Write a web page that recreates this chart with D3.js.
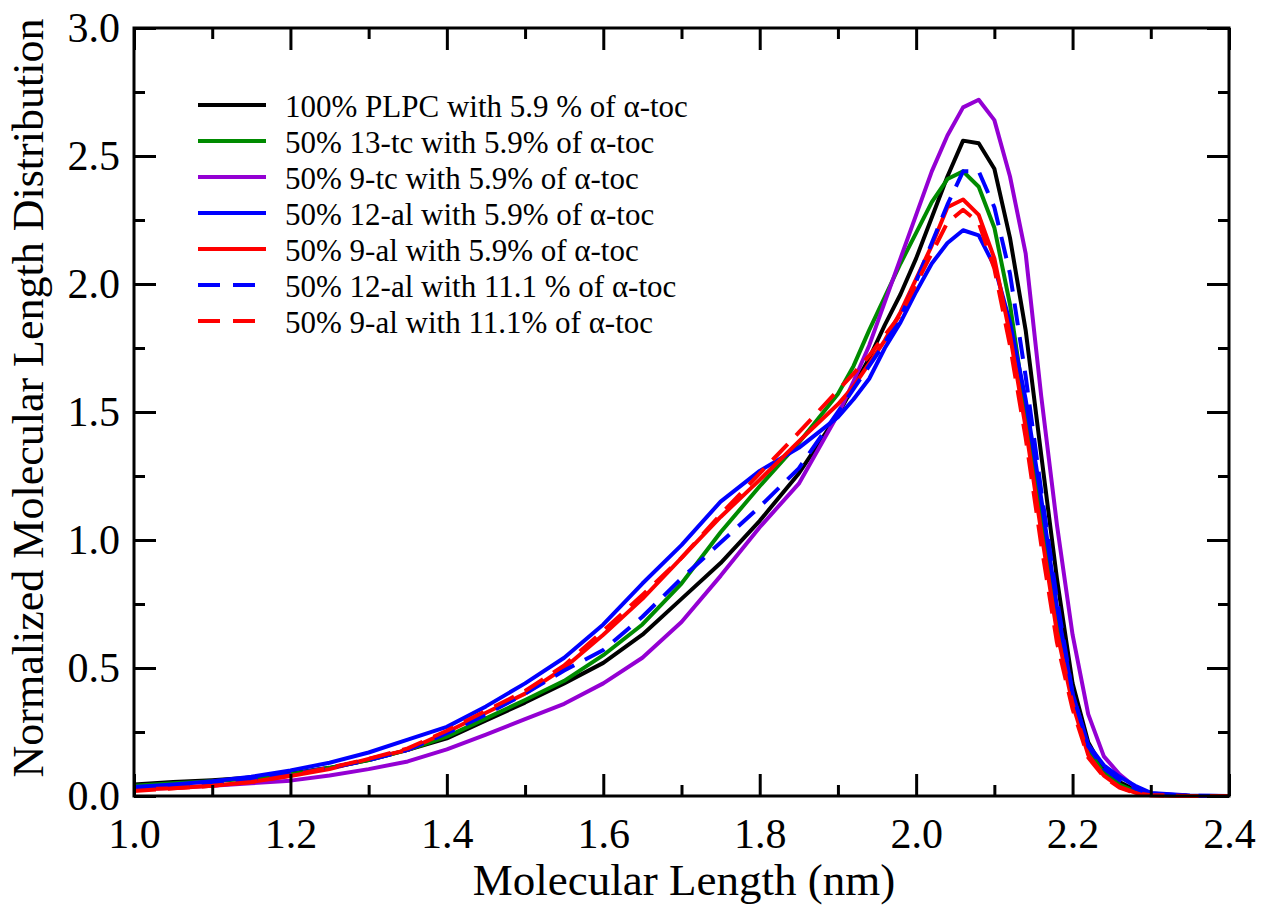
<!DOCTYPE html>
<html>
<head>
<meta charset="utf-8">
<script src="https://cdn.jsdelivr.net/npm/d3@7"></script>
<style>
    body { margin: 0; background: #fff; }
    svg { display: block; font-family: "Liberation Serif", "Times New Roman", serif; }
    .tick line { stroke: #000; stroke-width: 3; }
    .tick text { font-size: 42px; fill: #000; }
</style>
</head>
<body>
<svg id="chart" width="1263" height="913"></svg>
<script>

let lengths = [1.00, 1.05, 1.10, 1.15, 1.20, 1.25, 1.30, 1.35, 1.40, 1.45, 1.50, 1.55, 1.60, 1.65, 1.70, 1.75, 1.80, 1.85, 1.90,
    1.92, 1.94, 1.96, 1.98, 2.00, 2.02, 2.04, 2.06, 2.08, 2.10, 2.12, 2.14, 2.16, 2.18, 2.20, 2.22, 2.24, 2.26, 2.28, 2.30, 2.35, 2.40]

let plpc_59 = [0.045, 0.055, 0.062, 0.072, 0.088, 0.11, 0.14, 0.18, 0.225, 0.295, 0.365, 0.44, 0.52, 0.63, 0.77, 0.91, 1.075, 1.26, 1.49,
    1.60, 1.71, 1.84, 1.96, 2.10, 2.26, 2.42, 2.56, 2.55, 2.45, 2.18, 1.82, 1.33, 0.85, 0.44, 0.21, 0.10, 0.055, 0.024, 0.005, 0, 0]

let tc13_59 = [0.04, 0.05, 0.058, 0.068, 0.085, 0.11, 0.14, 0.18, 0.232, 0.303, 0.375, 0.45, 0.55, 0.67, 0.83, 1.03, 1.21, 1.38, 1.57,
    1.68, 1.82, 1.95, 2.08, 2.20, 2.32, 2.41, 2.44, 2.38, 2.22, 1.92, 1.50, 1.08, 0.68, 0.38, 0.18, 0.09, 0.045, 0.018, 0.004, 0, 0]

let tc9_59 = [0.025, 0.032, 0.04, 0.05, 0.06, 0.08, 0.105, 0.135, 0.182, 0.24, 0.30, 0.36, 0.44, 0.54, 0.68, 0.86, 1.05, 1.22, 1.49,
    1.62, 1.76, 1.93, 2.10, 2.27, 2.44, 2.58, 2.69, 2.72, 2.64, 2.42, 2.12, 1.56, 1.06, 0.63, 0.32, 0.155, 0.085, 0.035, 0.01, 0, 0]

let al12_59 = [0.035, 0.045, 0.058, 0.075, 0.10, 0.13, 0.17, 0.22, 0.27, 0.35, 0.44, 0.54, 0.67, 0.83, 0.98, 1.15, 1.27, 1.36, 1.48,
    1.55, 1.63, 1.75, 1.85, 1.97, 2.08, 2.16, 2.21, 2.19, 2.07, 1.85, 1.55, 1.16, 0.74, 0.40, 0.20, 0.12, 0.075, 0.04, 0.012, 0.002, 0]

let al9_59 = [0.025, 0.03, 0.04, 0.055, 0.078, 0.105, 0.145, 0.18, 0.25, 0.325, 0.40, 0.50, 0.63, 0.77, 0.93, 1.09, 1.235, 1.385, 1.53,
    1.60, 1.69, 1.78, 1.89, 2.02, 2.15, 2.30, 2.33, 2.27, 2.10, 1.80, 1.44, 1.03, 0.64, 0.36, 0.16, 0.08, 0.036, 0.013, 0.003, 0, 0]

let al12_111 = [0.03, 0.04, 0.05, 0.065, 0.085, 0.11, 0.14, 0.18, 0.245, 0.318, 0.40, 0.49, 0.57, 0.70, 0.85, 0.99, 1.13, 1.28, 1.50,
    1.59, 1.68, 1.77, 1.87, 2.01, 2.16, 2.31, 2.44, 2.44, 2.30, 2.04, 1.64, 1.19, 0.77, 0.40, 0.195, 0.108, 0.063, 0.03, 0.008, 0.001, 0]

let al9_111 = [0.02, 0.03, 0.04, 0.055, 0.08, 0.11, 0.145, 0.186, 0.255, 0.333, 0.41, 0.51, 0.645, 0.785, 0.93, 1.10, 1.26, 1.42, 1.585,
    1.65, 1.72, 1.80, 1.88, 2.00, 2.12, 2.24, 2.29, 2.24, 2.06, 1.76, 1.40, 0.98, 0.60, 0.34, 0.15, 0.075, 0.033, 0.012, 0.003, 0, 0]

let series = [
    { name: "100% PLPC with 5.9 % of \u03b1-toc", values: plpc_59, color: "#000000", dash: null },
    { name: "50% 13-tc with 5.9% of \u03b1-toc", values: tc13_59, color: "#008b00", dash: null },
    { name: "50% 9-tc with 5.9% of \u03b1-toc", values: tc9_59, color: "#9400d3", dash: null },
    { name: "50% 12-al with 5.9% of \u03b1-toc", values: al12_59, color: "#0000ff", dash: null },
    { name: "50% 9-al with 5.9% of \u03b1-toc", values: al9_59, color: "#ff0000", dash: null },
    { name: "50% 12-al with 11.1 % of \u03b1-toc", values: al12_111, color: "#0000ff", dash: "22,12" },
    { name: "50% 9-al with 11.1% of \u03b1-toc", values: al9_111, color: "#ff0000", dash: "22,12" }
]

let x_major = [1.0, 1.2, 1.4, 1.6, 1.8, 2.0, 2.2, 2.4]
let x_minor = [1.1, 1.3, 1.5, 1.7, 1.9, 2.1, 2.3]
let y_major = [0.0, 0.5, 1.0, 1.5, 2.0, 2.5, 3.0]
let y_minor = [0.25, 0.75, 1.25, 1.75, 2.25, 2.75]

let plot_left = 134, plot_right = 1229, plot_top = 28, plot_bottom = 796

let svg = d3.select('#chart')
let x = d3.scaleLinear().domain([1.0, 2.4]).range([plot_left, plot_right])
let y = d3.scaleLinear().domain([0, 3.0]).range([plot_bottom, plot_top])

function addAxis(axis, tx, ty) {
    let g = svg.append('g').attr('transform', `translate(${tx},${ty})`).call(axis)
    g.select('.domain').remove()
    g.attr('font-family', null).attr('font-size', null)
    return g
}

// curves first, frame and ticks on top
let line = d3.line().x((d, i) => x(lengths[i])).y((d) => y(d))

svg.append('g').attr('class', 'lines')
    .selectAll('path')
    .data(series)
    .join('path')
    .attr('d', (d) => line(d.values))
    .attr('fill', 'none')
    .attr('stroke', (d) => d.color)
    .attr('stroke-width', 4)
    .attr('stroke-linejoin', 'round')
    .attr('stroke-dasharray', (d) => d.dash)

addAxis(d3.axisBottom(x).tickValues(x_major).tickSize(-22).tickPadding(22).tickFormat(d3.format('.1f')), 0, plot_bottom)
addAxis(d3.axisBottom(x).tickValues(x_minor).tickSize(-11).tickFormat(''), 0, plot_bottom)
addAxis(d3.axisTop(x).tickValues(x_major).tickSize(-22).tickFormat(''), 0, plot_top)
addAxis(d3.axisTop(x).tickValues(x_minor).tickSize(-11).tickFormat(''), 0, plot_top)

addAxis(d3.axisLeft(y).tickValues(y_major).tickSize(-22).tickPadding(14).tickFormat(d3.format('.1f')), plot_left, 0)
addAxis(d3.axisLeft(y).tickValues(y_minor).tickSize(-11).tickFormat(''), plot_left, 0)
addAxis(d3.axisRight(y).tickValues(y_major).tickSize(-22).tickFormat(''), plot_right, 0)
addAxis(d3.axisRight(y).tickValues(y_minor).tickSize(-11).tickFormat(''), plot_right, 0)

svg.append('rect')
    .attr('x', plot_left).attr('y', plot_top)
    .attr('width', plot_right - plot_left).attr('height', plot_bottom - plot_top)
    .attr('fill', 'none').attr('stroke', '#000').attr('stroke-width', 3)

svg.append('text')
    .attr('x', 684).attr('y', 895)
    .attr('text-anchor', 'middle').attr('font-size', 45)
    .text('Molecular Length (nm)')

svg.append('text')
    .attr('transform', 'translate(43,398) rotate(-90)')
    .attr('text-anchor', 'middle').attr('font-size', 44)
    .text('Normalized Molecular Length Distribution')

let legend = svg.append('g').attr('class', 'legend')
    .selectAll('g')
    .data(series)
    .join('g')
    .attr('transform', (d, i) => `translate(198,${105 + i * 36})`)

legend.append('line')
    .attr('x1', 0).attr('x2', 68)
    .attr('stroke', (d) => d.color)
    .attr('stroke-width', 4)
    .attr('stroke-dasharray', (d) => d.dash ? "22,13" : null)

legend.append('text')
    .attr('x', 87).attr('dy', 12)
    .attr('font-size', 31)
    .text((d) => d.name)

</script>
</body>
</html>
